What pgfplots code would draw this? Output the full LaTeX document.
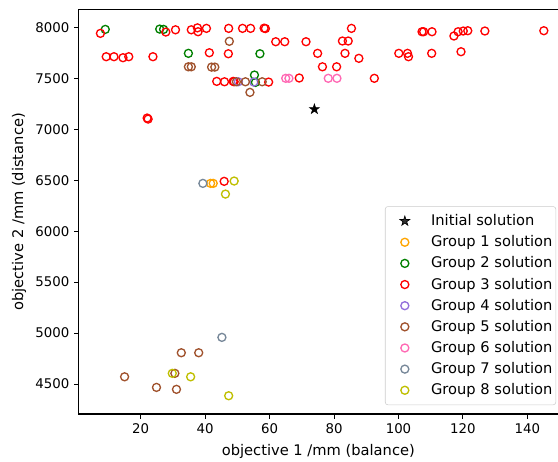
\documentclass[border=0pt]{standalone}
\usepackage{fontspec}
\setmainfont{DejaVu Sans}
\usepackage{pgfplots}
\pgfplotsset{compat=1.18}
\definecolor{g1}{HTML}{FFA500}
\definecolor{g2}{HTML}{008000}
\definecolor{g3}{HTML}{FF0000}
\definecolor{g4}{HTML}{9370DB}
\definecolor{g5}{HTML}{A0522D}
\definecolor{g6}{HTML}{FF69B4}
\definecolor{g7}{HTML}{778899}
\definecolor{g8}{rgb}{0.75,0.75,0}
\pgfdeclareplotmark{fstar}{%
  \pgfpathmoveto{\pgfpointpolar{90}{\pgfplotmarksize}}%
  \pgfpathlineto{\pgfpointpolar{126}{0.382\pgfplotmarksize}}%
  \pgfpathlineto{\pgfpointpolar{162}{\pgfplotmarksize}}%
  \pgfpathlineto{\pgfpointpolar{198}{0.382\pgfplotmarksize}}%
  \pgfpathlineto{\pgfpointpolar{234}{\pgfplotmarksize}}%
  \pgfpathlineto{\pgfpointpolar{270}{0.382\pgfplotmarksize}}%
  \pgfpathlineto{\pgfpointpolar{306}{\pgfplotmarksize}}%
  \pgfpathlineto{\pgfpointpolar{342}{0.382\pgfplotmarksize}}%
  \pgfpathlineto{\pgfpointpolar{18}{\pgfplotmarksize}}%
  \pgfpathlineto{\pgfpointpolar{54}{0.382\pgfplotmarksize}}%
  \pgfpathclose
  \pgfusepathqfillstroke}
\begin{document}
\begin{tikzpicture}
\begin{axis}[name=ax, scale only axis, width=359.5pt, height=303.2pt,
  xmin=0.75, xmax=149.5, ymin=4206, ymax=8173,
  axis line style={draw=none},
  tick align=outside, tick pos=left, major tick length=3.5pt,
  every tick/.append style={black, line width=0.8pt},
  xtick={20,40,...,140}, ytick={4500,5000,...,8000},
  /pgf/number format/assume math mode=true,
  /pgf/number format/1000 sep={},
  ticklabel style={font=\fontsize{10}{12}\selectfont},
  label style={font=\fontsize{11}{13}\selectfont},
  xlabel={objective 1 /mm (balance)}, ylabel={objective 2 /mm (distance)},
  xlabel style={yshift=-1.5pt},
  only marks,
  legend cell align=left,
  legend image code/.code={\path (-3pt,0pt) (20pt,0pt); \draw[#1] plot coordinates {(10pt,0pt)};},
  legend style={at={(0.996,0.022)}, anchor=south east, font=\fontsize{11}{13}\selectfont,
    draw=black!20, rounded corners=2pt, fill=white, fill opacity=0.8, text opacity=1,
    nodes={inner xsep=1pt},
    row sep=2pt, column sep=8.5pt, inner xsep=1.5pt, inner ysep=4pt},
]
\addplot[mark=fstar, mark size=3.8pt, black, mark options={line width=0.5pt}] coordinates {(73.9,7197)};
\addlegendentry{Initial solution}
\addplot[mark=o, mark size=3pt, g1, mark options={line width=1pt}] coordinates {(41.7,6469) (42.5,6469)};
\addlegendentry{Group 1 solution}
\addplot[mark=o, mark size=3pt, g2, mark options={line width=1pt}] coordinates {
(9.0,7980) (25.9,7983) (27.1,7980) (34.8,7745) (57.0,7741) (55.3,7532) (55.6,7460)};
\addlegendentry{Group 2 solution}
\addplot[mark=o, mark size=3pt, g3, mark options={line width=1pt}] coordinates {
(7.5,7941) (27.8,7954) (30.8,7976) (35.7,7976) (37.6,7995) (37.8,7957) (40.4,7990)
(47.3,7990) (51.6,7990) (54.1,7990) (58.3,7992) (58.7,7988) (61.9,7859) (64.7,7859)
(71.3,7859) (74.9,7745) (9.3,7712) (11.7,7712) (14.5,7702) (16.3,7712) (23.8,7712)
(41.3,7751) (47.2,7741) (43.6,7470) (46.0,7466) (48.7,7470) (49.0,7466) (59.7,7463)
(69.2,7503) (85.4,7990) (82.6,7866) (84.4,7866) (83.4,7745) (87.7,7696) (76.4,7613)
(80.8,7613) (92.5,7500) (100.1,7745) (102.8,7745) (103.1,7712) (107.3,7957) (107.8,7957)
(110.4,7957) (110.3,7745) (117.2,7915) (118.5,7957) (120.1,7964) (121.5,7967)
(126.8,7964) (145.1,7967) (119.4,7761) (22.0,7110) (22.3,7100) (45.9,6489)};
\addlegendentry{Group 3 solution}
\addplot[mark=o, mark size=3pt, g4, mark options={line width=1pt}] coordinates {(50.3,7466) (55.1,7463)};
\addlegendentry{Group 4 solution}
\addplot[mark=o, mark size=3pt, g5, mark options={line width=1pt}] coordinates {
(47.5,7863) (34.8,7613) (35.7,7613) (42.0,7610) (43.0,7610) (49.7,7466) (52.5,7466)
(57.7,7466) (53.9,7362) (32.6,4807) (38.0,4807) (15.0,4571) (30.6,4605) (24.9,4467) (31.1,4448)};
\addlegendentry{Group 5 solution}
\addplot[mark=o, mark size=3pt, g6, mark options={line width=1pt}] coordinates {(78.2,7500) (80.9,7500) (65.0,7500) (66.0,7500)};
\addlegendentry{Group 6 solution}
\addplot[mark=o, mark size=3pt, g7, mark options={line width=1pt}] coordinates {(39.3,6469) (45.2,4958)};
\addlegendentry{Group 7 solution}
\addplot[mark=o, mark size=3pt, g8, mark options={line width=1pt}] coordinates {(49.0,6492) (46.3,6364) (29.8,4605) (35.5,4571) (47.3,4385)};
\addlegendentry{Group 8 solution}
\end{axis}
\draw[black, line width=0.8pt] (ax.north east) -- (ax.north west) -- (ax.south west) -- (ax.south east);
\pgfresetboundingbox
\path (ax.south west) ++(-59pt,-36pt) coordinate (bbA);
\path (ax.north east) ++(0pt,7.3pt) coordinate (bbB);
\useasboundingbox (bbA) rectangle (bbB);
\end{tikzpicture}
\end{document}
